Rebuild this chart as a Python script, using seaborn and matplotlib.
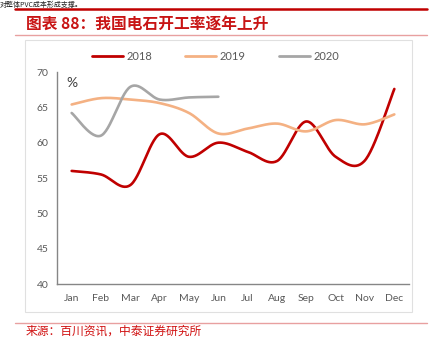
import numpy as np
import pandas as pd
import matplotlib
matplotlib.use("Agg")
import matplotlib.pyplot as plt
from matplotlib.lines import Line2D
from matplotlib.patches import Rectangle
import seaborn as sns

months = ["Jan", "Feb", "Mar", "Apr", "May", "Jun", "Jul", "Aug", "Sep", "Oct", "Nov", "Dec"]
rate_2018 = [56.0, 55.5, 54.0, 61.2, 58.0, 60.0, 58.7, 57.4, 63.0, 58.0, 57.5, 67.6]
rate_2019 = [65.4, 66.3, 66.1, 65.6, 64.2, 61.3, 62.0, 62.7, 61.6, 63.2, 62.6, 64.0]
rate_2020 = [64.2, 61.0, 67.9, 66.1, 66.4, 66.5]
years = ["2018", "2019", "2020"]
colors = {"2018": "#C00000", "2019": "#F4B183", "2020": "#A6A6A6"}

title = "图表 88：我国电石开工率逐年上升"
source = "来源：百川资讯，中泰证券研究所"
lead_text = "对整体PVC成本形成支撑。"


def smooth_curve(xs, ys, n=30):
    """Catmull-Rom style Bezier smoothing through every data point."""
    pts = np.column_stack([xs, ys]).astype(float)
    P = np.vstack([pts[0], pts, pts[-1]])
    out = []
    segs = len(pts) - 1
    for i in range(1, segs + 1):
        p0, p1, p2, p3 = P[i - 1], P[i], P[i + 1], P[i + 2]
        c1 = p1 + (p2 - p0) / 6.0
        c2 = p2 - (p3 - p1) / 6.0
        t = np.linspace(0, 1, n, endpoint=(i == segs))[:, None]
        b = ((1 - t) ** 3) * p1 + 3 * ((1 - t) ** 2) * t * c1 + 3 * (1 - t) * t ** 2 * c2 + t ** 3 * p2
        out.append(b)
    return np.vstack(out)


frames = []
for yr, vals in zip(years, [rate_2018, rate_2019, rate_2020]):
    curve = smooth_curve(np.arange(len(vals)), vals)
    frames.append(pd.DataFrame({"x": curve[:, 0], "y": curve[:, 1],
                                "year": yr, "step": np.arange(len(curve))}))
df = pd.concat(frames, ignore_index=True)

sns.set_theme(style="white")
plt.rcParams["font.family"] = ["Lato", "Noto Sans CJK SC", "DejaVu Sans"]

fig = plt.figure(figsize=(4.37, 3.38), dpi=100)
fig.patch.set_facecolor("white")

# page decorations: rules, caption, framed chart area
fig.text(0.0, 333.5 / 338, lead_text, fontsize=5, color="#222222",
         ha="left", va="center", family=["Noto Sans CJK SC", "DejaVu Sans"])
fig.add_artist(Line2D([15 / 437, 427 / 437], [329.5 / 338, 329.5 / 338],
                      color="#C00000", lw=1.8, transform=fig.transFigure))
fig.text(26 / 437, 314.5 / 338, title, fontsize=11.3, color="#C81414", fontweight="bold",
         ha="left", va="center", family=["Noto Sans CJK SC", "DejaVu Sans"])
fig.add_artist(Line2D([15 / 437, 427 / 437], [303 / 338, 303 / 338],
                      color="#E8A0A0", lw=1.0, transform=fig.transFigure))
fig.add_artist(Rectangle((25 / 437, 26 / 338), 387 / 437, 272 / 338, fill=False,
                         edgecolor="#E0E0E0", lw=0.8, transform=fig.transFigure))
fig.add_artist(Line2D([15 / 437, 427 / 437], [15.3 / 338, 15.3 / 338],
                      color="#E8A0A0", lw=1.0, transform=fig.transFigure))
fig.text(26 / 437, 6.8 / 338, source, fontsize=8.5, color="#D01010",
         ha="left", va="center", family=["Noto Sans CJK SC", "DejaVu Sans"])

ax = fig.add_axes([57 / 437, 54 / 338, 352 / 437, 212 / 338])
sns.lineplot(data=df, x="x", y="y", hue="year", palette=colors, sort=False,
             estimator=None, units="year", linewidth=1.9, legend=False, ax=ax)

ax.set_xlim(-0.5, 11.5)
ax.set_ylim(40, 70)
ax.set_yticks(np.arange(40, 71, 5))
ax.set_xticks(np.arange(len(months)))
ax.set_xticklabels(months)
ax.set_xticks(np.arange(-0.5, 12, 1), minor=True)
ax.set_xlabel("")
ax.set_ylabel("")

for side in ["top", "right"]:
    ax.spines[side].set_visible(False)
for side in ["left", "bottom"]:
    ax.spines[side].set_color("#868686")
    ax.spines[side].set_linewidth(1.0)

ax.tick_params(axis="x", which="major", length=0, pad=7, labelsize=7.5, labelcolor="#595959")
ax.tick_params(axis="x", which="minor", direction="in", length=3.5, width=0.9, color="#868686")
ax.tick_params(axis="y", which="major", direction="in", length=3.5, width=0.9, color="#868686",
               pad=6, labelsize=7.5, labelcolor="#595959")

ax.text(0.028, 0.975, "%", transform=ax.transAxes, fontsize=10, color="#404040",
        ha="left", va="top")

handles = [Line2D([], [], color=colors[y], lw=2.0) for y in years]
fig.legend(handles, years, loc="center", bbox_to_anchor=(0.493, 282 / 338), ncol=3,
           frameon=False, fontsize=8, handlelength=2.8, columnspacing=3.0,
           handletextpad=0.3, labelcolor="#595959")

fig.savefig("out.png", dpi=100, facecolor="white")
